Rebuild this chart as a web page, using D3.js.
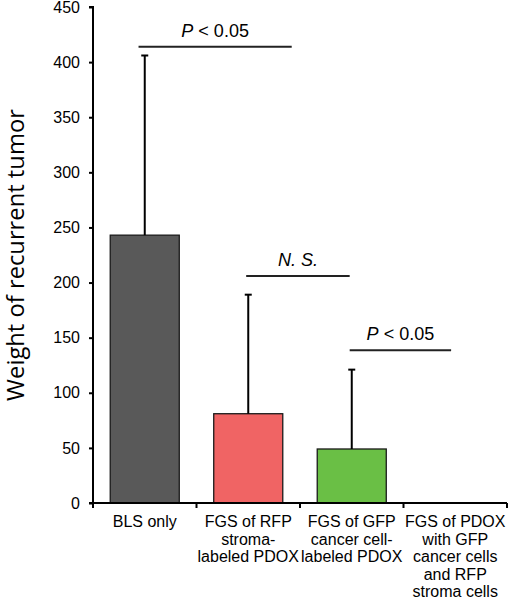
<!DOCTYPE html>
<html><head><meta charset="utf-8">
<script src="https://cdn.jsdelivr.net/npm/d3@7"></script>
<style>body{margin:0;background:#fff}svg{display:block;font-family:"Liberation Sans",Arial,sans-serif}</style>
</head><body><svg id="c" width="508" height="601"></svg>
<script>
const categories = [["BLS only"],["FGS of RFP","stroma-","labeled PDOX"],["FGS of GFP","cancer cell-","labeled PDOX"],["FGS of PDOX","with GFP","cancer cells","and RFP","stroma cells"]];
const means = [243, 81, 49, 0];
const errors = [163, 108, 72, 0];
const colors = ["#595959", "#f06464", "#6abf45", "#ffffff"];
const yTicks = [0,50,100,150,200,250,300,350,400,450];
// significance brackets: start/end in category units (0 = centre of first bar), level in data units
const sigStart = [-0.06, 0.98, 1.98];
const sigEnd = [1.42, 1.98, 2.96];
const sigLevel = [414, 206, 138.5];
const sigItalic = ["P", "N. S.", "P"];
const sigRest = [" < 0.05", "", " < 0.05"];

const svg = d3.select("#c");
const x0 = 93, x1 = 507, yTop = 7, yBot = 503;
const x = d3.scaleBand().domain(d3.range(categories.length)).range([x0, x1]).paddingInner(0.333).paddingOuter(0.1665);
const xb = d3.scaleBand().domain(d3.range(categories.length)).range([x0, x1]);
const xc = d3.scaleLinear().domain([-0.5, categories.length-0.5]).range([x0, x1]);
const y = d3.scaleLinear().domain([0, 450]).range([yBot, yTop]);

// bars
svg.selectAll("rect.bar").data(means).join("rect")
  .attr("x", (d,i)=>x(i)).attr("width", x.bandwidth())
  .attr("y", d=>y(d)).attr("height", d=>y(0)-y(d))
  .attr("fill", (d,i)=>colors[i]).attr("stroke", "#1a1a1a").attr("stroke-width", 1.3)
  .attr("visibility", d=> d>0 ? "visible":"hidden");

// error bars
means.forEach((m,i)=>{
  if (errors[i] <= 0) return;
  const cx = x(i) + x.bandwidth()/2;
  svg.append("line").attr("x1",cx).attr("x2",cx).attr("y1",y(m)).attr("y2",y(m+errors[i])).attr("stroke","#000").attr("stroke-width",2);
  svg.append("line").attr("x1",cx-3.5).attr("x2",cx+3.5).attr("y1",y(m+errors[i])).attr("y2",y(m+errors[i])).attr("stroke","#000").attr("stroke-width",2);
});

// y axis
const yAxis = d3.axisLeft(y).tickValues(yTicks).tickSize(4).tickPadding(9);
const ga = svg.append("g").attr("transform", `translate(${x0},0)`).call(yAxis);
ga.select(".domain").attr("stroke-width", 2).attr("d", `M-4,${yTop}H0V${yBot}`);
ga.selectAll(".tick line").attr("stroke-width", 2);
ga.selectAll(".tick text").attr("font-size", 16).attr("fill","#000").attr("font-family","Liberation Sans, Arial, sans-serif");

// x axis
svg.append("line").attr("x1", x0-4).attr("x2", x1).attr("y1", yBot).attr("y2", yBot).attr("stroke","#000").attr("stroke-width",2);
const bounds = d3.range(categories.length+1).map(i=> i<categories.length ? xb(i) : x1);
svg.selectAll("line.xt").data(bounds).join("line").attr("class","xt")
  .attr("x1", d=>d).attr("x2", d=>d).attr("y1", yBot).attr("y2", yBot+5).attr("stroke","#000").attr("stroke-width",2);

// category labels
categories.forEach((lines,i)=>{
  const cx = xb(i) + xb.bandwidth()/2;
  const t = svg.append("text").attr("x", cx).attr("y", 527).attr("text-anchor","middle").attr("font-size",16);
  lines.forEach((l,j)=> t.append("tspan").attr("x", cx).attr("dy", j===0?0:17.6).text(l));
});

// y label
const yl = svg.append("text").attr("transform", "translate(24,255) rotate(-90)").attr("text-anchor","middle")
  .attr("font-family","'Open Sans', sans-serif").attr("font-size",24).text("Weight of recurrent tumor");
const len = yl.node().getComputedTextLength();
yl.attr("font-size", 24*292/len);

// significance
sigLevel.forEach((lv,k)=>{
  const a = xc(sigStart[k]);
  const b = xc(sigEnd[k]);
  const yy = y(lv);
  svg.append("line").attr("x1", a).attr("x2", b).attr("y1", yy).attr("y2", yy).attr("stroke","#222").attr("stroke-width",2);
  const t = svg.append("text").attr("x",(a+b)/2).attr("y", yy-10).attr("text-anchor","middle").attr("font-size",18);
  t.append("tspan").attr("font-style","italic").text(sigItalic[k]);
  if (sigRest[k]) t.append("tspan").text(sigRest[k]);
});
</script></body></html>
